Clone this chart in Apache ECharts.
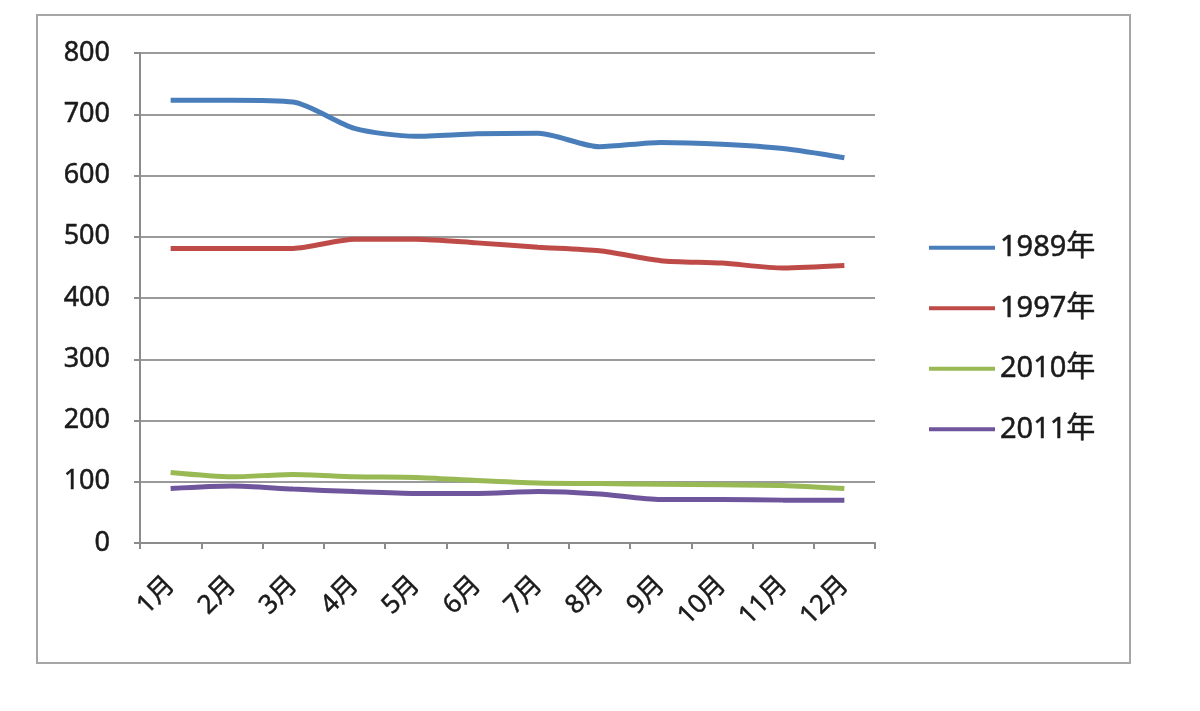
<!DOCTYPE html>
<html>
<head>
<meta charset="utf-8">
<title>月別推移</title>
<script src="https://cdn.jsdelivr.net/npm/echarts@6/dist/echarts.min.js"></script>
<style>
html, body { margin: 0; padding: 0; background: #fff; }
#chart { width: 1200px; height: 711px; }
</style>
</head>
<body>
<div id="chart"></div>
<script>
// 横軸の月
const months = ['1月', '2月', '3月', '4月', '5月', '6月', '7月', '8月', '9月', '10月', '11月', '12月']

// 各年の値
const y1989 = [723, 723, 720, 677, 664, 668, 669, 647, 654, 651, 644, 629]
const y1997 = [481, 481, 481, 496, 496, 490, 483, 477, 461, 457, 449, 453]
const y2010 = [115, 108, 112, 108, 107, 102, 98, 97, 96, 95, 94, 89]
const y2011 = [89, 93, 88, 84, 81, 81, 84, 80, 71, 71, 70, 70]

const seriesNames = ['1989年', '1997年', '2010年', '2011年']
const seriesData = [y1989, y1997, y2010, y2011]
const seriesColors = ['#4a7ebb', '#be4b48', '#98b954', '#6f559c']

const fontFamily = '"Noto Sans", "Noto Sans CJK JP", sans-serif'
const textColor = '#1a1a1a'

let myChart = echarts.init(document.getElementById('chart'))

let option = {
  backgroundColor: '#fff',
  animation: false,
  color: seriesColors,
  graphic: [{
    type: 'rect',
    shape: { x: 37, y: 15, width: 1093, height: 648 },
    style: { fill: 'none', stroke: '#a6a6a6', lineWidth: 2 },
    silent: true
  }],
  grid: {
    left: 140,
    right: 325,
    top: 53,
    bottom: 168
  },
  legend: {
    orient: 'vertical',
    left: 924,
    top: 228,
    icon: 'rect',
    itemWidth: 66,
    itemHeight: 4,
    itemGap: 31,
    textStyle: {
      color: textColor,
      fontSize: 29,
      fontFamily: fontFamily,
      textBorderColor: textColor,
      textBorderWidth: 0.5
    },
    data: seriesNames
  },
  xAxis: {
    type: 'category',
    data: months,
    boundaryGap: true,
    axisLine: { lineStyle: { color: '#8c8c8c', width: 2 } },
    axisTick: { show: true, length: 6, lineStyle: { color: '#8c8c8c', width: 2 } },
    axisLabel: {
      rotate: 45,
      margin: 38,
      interval: 0,
      color: textColor,
      fontSize: 26,
      fontFamily: fontFamily,
      textBorderColor: textColor,
      textBorderWidth: 0.5
    }
  },
  yAxis: {
    type: 'value',
    min: 0,
    max: 800,
    interval: 100,
    axisLine: { show: true, lineStyle: { color: '#8c8c8c', width: 2 } },
    axisTick: { show: true, length: 6, lineStyle: { color: '#8c8c8c', width: 2 } },
    splitLine: { lineStyle: { color: '#9a9a9a', width: 2 } },
    axisLabel: {
      margin: 30,
      color: textColor,
      fontSize: 27,
      fontFamily: fontFamily,
      textBorderColor: textColor,
      textBorderWidth: 0.5
    }
  },
  series: seriesNames.map(function (name, i) {
    return {
      name: name,
      type: 'line',
      smooth: 0.25,
      symbol: 'none',
      lineStyle: { width: 5, color: seriesColors[i] },
      data: seriesData[i]
    }
  })
}

myChart.setOption(option)
</script>
</body>
</html>
